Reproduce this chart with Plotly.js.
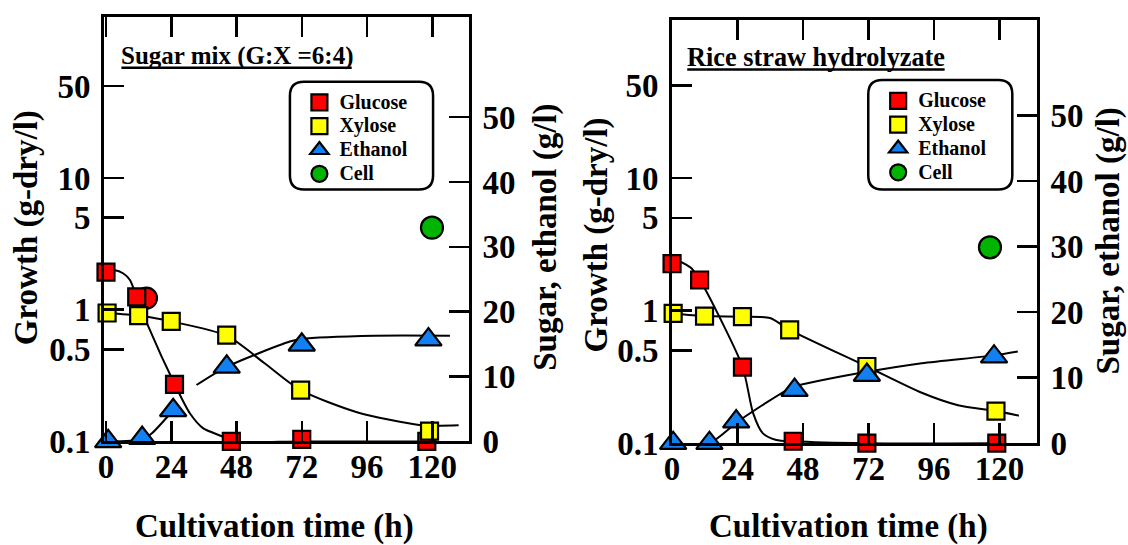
<!DOCTYPE html>
<html><head><meta charset="utf-8">
<script src="https://cdn.plot.ly/plotly-3.0.1.min.js"></script>
<style>html,body{margin:0;padding:0;background:#fff}#chart{width:1128px;height:545px}</style>
</head><body><div id="chart"></div>
<script>
// ---------- Data ----------
// Panel 1: Sugar mix (G:X = 6:4)
const mixGlucoseT = [0, 11.3, 25.2, 46.1, 72, 118];
const mixGlucose  = [26.1, 22.3, 8.8, 0, 0.3, 0];
const mixXyloseT  = [0.4, 12, 24, 44.4, 71.6, 119];
const mixXylose   = [19.8, 19.4, 18.5, 16.4, 7.9, 1.6];
const mixEthanolT = [0.8, 13.3, 24.7, 44.4, 72, 118.6];
const mixEthanol  = [0, 0.5, 4.8, 11.5, 14.9, 15.7];
const mixCellT    = [119.9];
const mixCell     = [4.2];
const mixOverlapT = [14.9];   // red half-disc behind 2nd glucose square
const mixOverlap  = [22.1];
// hand-drawn trend curves
const mixGlucoseFitT = [0, 3.3, 6.4, 8.8, 11.3, 15.6, 25.4, 30.9, 35.8, 43.2, 46.1, 72, 118];
const mixGlucoseFit  = [26.1, 26.4, 25.9, 24.9, 22.3, 17.7, 8.7, 4.3, 2.0, 0.7, 0, 0, 0];
const mixXyloseFitT  = [0.4, 12, 24, 44.4, 58.2, 71.6, 92.3, 116, 129.7];
const mixXyloseFit   = [19.8, 19.4, 18.5, 16.3, 12.1, 7.9, 4.5, 2.5, 2.5];
const mixEthanolFit1T = [0.8, 13.3, 17, 24.7];
const mixEthanolFit1  = [0, 0.3, 1.3, 4.8];
const mixEthanolFit2T = [33.3, 44.4, 67.6, 72, 98.9, 126.5];
const mixEthanolFit2  = [8.7, 11.5, 15.4, 15.8, 16.3, 16.3];

// Panel 2: Rice straw hydrolyzate
const riceGlucoseT = [0, 10.1, 25.8, 44.4, 71.4, 119];
const riceGlucose  = [27.4, 24.9, 11.6, 0.3, 0, 0];
const riceXyloseT  = [0.4, 11.9, 25.8, 43.1, 71.4, 118.7];
const riceXylose   = [19.8, 19.4, 19.3, 17.3, 11.7, 4.9];
const riceEthanolT = [0.4, 13.7, 23.5, 44.9, 71.4, 118];
const riceEthanol  = [0, 0, 3.3, 8.1, 10.4, 13.2];
const riceCellT    = [116.5];
const riceCell     = [3.0];
const riceGlucoseFitT = [0, 2.8, 7.1, 10.1, 12, 25.8, 29.7, 33.3, 38.2, 44.3, 71.4, 119];
const riceGlucoseFit  = [27.4, 27.7, 26.7, 24.9, 23.6, 11.7, 4.6, 1.5, 0.5, 0.3, 0, 0];
const riceXyloseFitT  = [0.4, 11.9, 25.8, 35.9, 43.1, 71.4, 91.5, 104.8, 118.7, 127.1];
const riceXyloseFit   = [19.8, 19.4, 19.3, 19.1, 17.3, 11.7, 7.7, 5.8, 4.9, 4.2];
const riceEthanolFitT = [0.4, 13.7, 24.8, 44.3, 49.2, 68.8, 91.5, 118, 126.7];
const riceEthanolFit  = [0, 0, 3.5, 8.6, 9.1, 10.7, 12.2, 13.4, 14.0];

// axis tick labels
const timeTicks   = [0, 24, 48, 72, 96, 120];
const growthTicks = [0.1, 0.5, 1, 5, 10, 50];
const growthText  = ['0.1', '0.5', '1', '5', '10', '50'];
const sugarTicks  = [0, 10, 20, 30, 40, 50];
const seriesNames = ['Glucose', 'Xylose', 'Ethanol', 'Cell'];
const panelTitles = ['Sugar mix (G:X =6:4)', 'Rice straw hydrolyzate'];
const xTitle  = 'Cultivation time (h)';
const yTitleL = 'Growth (g-dry/l)';
const yTitleR = 'Sugar, ethanol (g/l)';

// ---------- Layout helpers ----------
const W = 1128, H = 545, L = 104, R = 90.6, T = 16, B = 101;
const PW = W - L - R, PH = H - T - B;
const px = x => (x - L) / PW;
const py = y => (T + PH - y) / PH;
const FONT = 'Liberation Serif, Times New Roman, serif';

const RED = '#ff0000', YEL = '#ffff00', BLU = '#1380f2', GRN = '#00b400';

function lineTrace(x, y, xa, ya) {
  return {x: x, y: y, xaxis: xa, yaxis: ya, mode: 'lines', type: 'scatter',
    line: {color: '#000', width: 2, shape: 'spline', smoothing: 0.7},
    showlegend: false, hoverinfo: 'skip', cliponaxis: false};
}
function markTrace(name, x, y, xa, ya, sym, size, color, leg, showleg) {
  return {x: x, y: y, xaxis: xa, yaxis: ya, mode: 'markers', type: 'scatter',
    name: '<span style="font-size:20px">' + name + '</span>',
    marker: {symbol: sym, size: size, color: color, line: {color: '#000', width: 2.2}},
    legend: leg, showlegend: showleg, cliponaxis: false};
}

const traces = [
  lineTrace(mixGlucoseFitT, mixGlucoseFit, 'x', 'y2'),
  lineTrace(mixXyloseFitT, mixXyloseFit, 'x', 'y2'),
  lineTrace(mixEthanolFit1T, mixEthanolFit1, 'x', 'y2'),
  lineTrace(mixEthanolFit2T, mixEthanolFit2, 'x', 'y2'),
  markTrace('', mixOverlapT, mixOverlap, 'x', 'y2', 'circle', 21, RED, 'legend', false),
  markTrace(seriesNames[0], mixGlucoseT, mixGlucose, 'x', 'y2', 'square', 17, RED, 'legend', true),
  markTrace(seriesNames[1], mixXyloseT, mixXylose, 'x', 'y2', 'square', 17, YEL, 'legend', true),
  markTrace(seriesNames[2], mixEthanolT, mixEthanol, 'x', 'y2', 'triangle-up', 23, BLU, 'legend', true),
  markTrace(seriesNames[3], mixCellT, mixCell, 'x', 'y', 'circle', 22, GRN, 'legend', true),

  lineTrace(riceGlucoseFitT, riceGlucoseFit, 'x2', 'y4'),
  lineTrace(riceXyloseFitT, riceXyloseFit, 'x2', 'y4'),
  lineTrace(riceEthanolFitT, riceEthanolFit, 'x2', 'y4'),
  markTrace(seriesNames[0], riceGlucoseT, riceGlucose, 'x2', 'y4', 'square', 17, RED, 'legend2', true),
  markTrace(seriesNames[1], riceXyloseT, riceXylose, 'x2', 'y4', 'square', 17, YEL, 'legend2', true),
  markTrace(seriesNames[2], riceEthanolT, riceEthanol, 'x2', 'y4', 'triangle-up', 23, BLU, 'legend2', true),
  markTrace(seriesNames[3], riceCellT, riceCell, 'x2', 'y3', 'circle', 22, GRN, 'legend2', true)
];

const tickFont = {family: FONT, size: 33, color: '#000', weight: 'bold'};
const common = {showline: true, linewidth: 3, linecolor: '#000', ticks: 'inside', ticklen: 20,
  tickwidth: 2.5, tickcolor: '#000', showgrid: false, zeroline: false, tickfont: tickFont, fixedrange: true};

function xAxis(domain, range, anchor) {
  return Object.assign({}, common, {domain: domain, range: range, anchor: anchor, mirror: 'ticks',
    tickmode: 'array', tickvals: timeTicks, ticktext: timeTicks.map(String), ticklabelstandoff: -6});
}
function logAxis(domain, range, anchor) {
  return Object.assign({}, common, {type: 'log', domain: domain, range: range, anchor: anchor,
    tickmode: 'array', tickvals: growthTicks, ticktext: growthText, ticklabelstandoff: 4});
}
function linAxis(over, range, anchor) {
  return Object.assign({}, common, {overlaying: over, side: 'right', range: range, anchor: anchor,
    tickmode: 'array', tickvals: sugarTicks, ticktext: sugarTicks.map(String), ticklabelstandoff: 4});
}

function roundRect(x0, y0, x1, y1, r) {
  const P = (x, y) => px(x) + ',' + py(y);
  return 'M' + P(x0 + r, y0) + ' L' + P(x1 - r, y0) + ' Q' + P(x1, y0) + ' ' + P(x1, y0 + r) +
    ' L' + P(x1, y1 - r) + ' Q' + P(x1, y1) + ' ' + P(x1 - r, y1) +
    ' L' + P(x0 + r, y1) + ' Q' + P(x0, y1) + ' ' + P(x0, y1 - r) +
    ' L' + P(x0, y0 + r) + ' Q' + P(x0, y0) + ' ' + P(x0 + r, y0) + ' Z';
}

function ann(text, x, y, size, angle, xanchor) {
  return {text: text, x: px(x), y: py(y), xref: 'paper', yref: 'paper', showarrow: false,
    xanchor: xanchor || 'center', yanchor: 'middle', textangle: angle || 0, borderpad: 0,
    font: {family: FONT, size: size, color: '#000', weight: 'bold'}};
}

const legendFont = {family: FONT, size: 16, color: '#000', weight: 'bold'};

const layout = {
  width: W, height: H,
  margin: {l: L, r: R, t: T, b: B, pad: 0},
  paper_bgcolor: '#fff', plot_bgcolor: 'rgba(0,0,0,0)',
  font: {family: FONT, color: '#000'},
  xaxis: xAxis([0, px(469)], [-0.735, 133.46], 'y'),
  yaxis: logAxis([py(441.4), py(16.7)], [-1, 2.225], 'x'),
  yaxis2: linAxis('y', [0, 65.5], 'x'),
  xaxis2: xAxis([px(672.3), 1], [0, 133.74], 'y3'),
  yaxis3: logAxis([py(443.2), py(19.8)], [-1, 2.193], 'x2'),
  yaxis4: linAxis('y3', [0, 64.6], 'x2'),
  legend: {x: px(299.5), y: py(85.5), xanchor: 'left', yanchor: 'top', bgcolor: 'rgba(0,0,0,0)',
    borderwidth: 0, font: legendFont, tracegroupgap: 0},
  legend2: {x: px(878.5), y: py(84), xanchor: 'left', yanchor: 'top', bgcolor: 'rgba(0,0,0,0)',
    borderwidth: 0, font: legendFont, tracegroupgap: 0},
  shapes: [
    {type: 'path', xref: 'paper', yref: 'paper', path: roundRect(290, 81.7, 433.2, 189.4, 14),
      line: {color: '#000', width: 2.5}, fillcolor: 'rgba(0,0,0,0)'},
    {type: 'path', xref: 'paper', yref: 'paper', path: roundRect(868.6, 80, 1012.7, 189.4, 14),
      line: {color: '#000', width: 2.5}, fillcolor: 'rgba(0,0,0,0)'},
    {type: 'line', xref: 'paper', yref: 'paper', x0: px(121.4), x1: px(351.8), y0: py(67.8), y1: py(67.8),
      line: {color: '#000', width: 2.5}},
    {type: 'line', xref: 'paper', yref: 'paper', x0: px(687.5), x1: px(945), y0: py(69.5), y1: py(69.5),
      line: {color: '#000', width: 2.5}}
  ],
  annotations: [
    ann(panelTitles[0], 120, 56, 25, 0, 'left'),
    ann(panelTitles[1], 686, 57.5, 26.3, 0, 'left'),
    ann(yTitleL, 26.5, 227.6, 33, -90),
    ann(yTitleR, 545, 237, 33, -90),
    ann(yTitleL, 597, 234.6, 33, -90),
    ann(yTitleR, 1108.5, 241.5, 33, -90),
    ann(xTitle, 275, 526.5, 33, 0),
    ann(xTitle, 849, 526, 33, 0)
  ],
  showlegend: true
};

Plotly.newPlot('chart', traces, layout, {displayModeBar: false, staticPlot: true});
</script>
</body></html>
